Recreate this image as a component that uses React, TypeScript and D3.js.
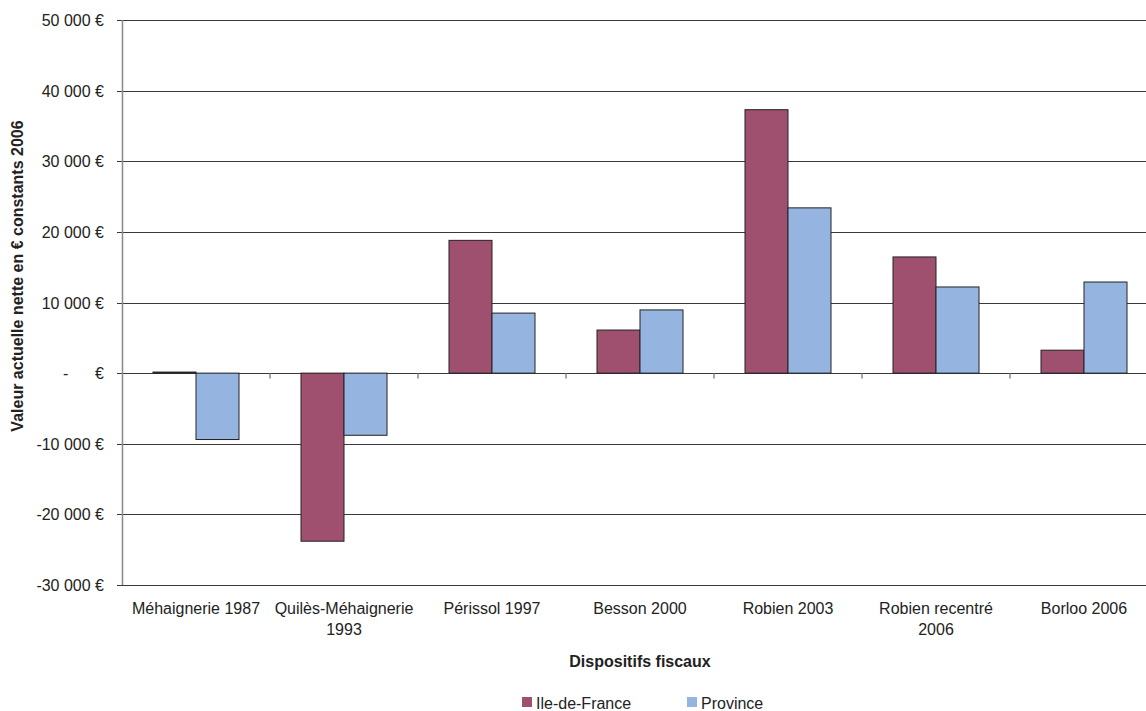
import React, { useEffect, useRef } from 'react';
import * as d3 from 'd3';

const categories = [
  ['Méhaignerie 1987'],
  ['Quilès-Méhaignerie', '1993'],
  ['Périssol 1997'],
  ['Besson 2000'],
  ['Robien 2003'],
  ['Robien recentré', '2006'],
  ['Borloo 2006'],
];
const seriesNames = ['Ile-de-France', 'Province'];
const ileDeFrance = [150, -23800, 18800, 6100, 37300, 16450, 3250];
const province = [-9400, -8800, 8500, 8950, 23400, 12200, 12900];
const yTicks = [-30000, -20000, -10000, 0, 10000, 20000, 30000, 40000, 50000];

const colors = ['#a0506f', '#95b5e0'];
const font = '"Liberation Sans", Arial, sans-serif';

export default function App() {
  const ref = useRef<SVGSVGElement>(null);

  useEffect(() => {
    const svg = d3.select(ref.current);
    svg.selectAll('*').remove();

    const left = 122;
    const band = 148;
    const top = 20;
    const bottom = 585;

    const x0 = d3.scaleBand()
      .domain(categories.map((c, i) => String(i)))
      .range([left, left + band * categories.length])
      .paddingInner(0)
      .paddingOuter(0);
    const x1 = d3.scaleBand()
      .domain(seriesNames)
      .range([31, band - 31]);
    const y = d3.scaleLinear().domain([-30000, 50000]).range([bottom, top]);

    // gridlines
    svg.append('g')
      .selectAll('line')
      .data(yTicks)
      .enter().append('line')
      .attr('x1', left - 5)
      .attr('x2', 1146)
      .attr('y1', d => Math.round(y(d)) + 0.5)
      .attr('y2', d => Math.round(y(d)) + 0.5)
      .attr('stroke', '#3a3a3a')
      .attr('stroke-width', 1);

    // y labels (hyphen for negatives, spaced dash for zero)
    const fmt = (d: number) => {
      if (d === 0) return '-\u00a0\u00a0\u00a0\u00a0\u00a0\u00a0€';
      const s = d3.format(',')(Math.abs(d)).replace(/,/g, ' ') + ' €';
      return d < 0 ? '-' + s : s;
    };
    svg.append('g')
      .selectAll('text')
      .data(yTicks)
      .enter().append('text')
      .attr('x', 104)
      .attr('y', d => y(d) + 6)
      .attr('text-anchor', 'end')
      .style('white-space', 'pre')
      .attr('font-family', font)
      .attr('font-size', 16)
      .attr('fill', '#222')
      .text(d => fmt(d));

    // bars
    const data = categories.map((c, i) => ({ i: String(i), vals: [ileDeFrance[i], province[i]] }));
    const groups = svg.append('g')
      .selectAll('g')
      .data(data)
      .enter().append('g')
      .attr('transform', d => `translate(${x0(d.i)},0)`);
    groups.selectAll('rect')
      .data(d => d.vals.map((v, k) => ({ v, k })))
      .enter().append('rect')
      .attr('x', d => x1(seriesNames[d.k]) as number)
      .attr('width', x1.bandwidth())
      .attr('y', d => Math.min(y(d.v), y(0)))
      .attr('height', d => Math.max(1, Math.abs(y(d.v) - y(0))))
      .attr('fill', d => colors[d.k])
      .attr('stroke', '#222')
      .attr('stroke-width', 1);

    // y axis line
    svg.append('line')
      .attr('x1', left + 0.5).attr('x2', left + 0.5)
      .attr('y1', top).attr('y2', bottom)
      .attr('stroke', '#888').attr('stroke-width', 1.5);

    // x axis at zero with category ticks
    const z = Math.round(y(0)) + 0.5;
    svg.append('g')
      .selectAll('line')
      .data(d3.range(1, categories.length + 1))
      .enter().append('line')
      .attr('x1', d => left + band * d)
      .attr('x2', d => left + band * d)
      .attr('y1', z)
      .attr('y2', z + 5)
      .attr('stroke', '#888')
      .attr('stroke-width', 1.5);

    // category labels
    const labels = svg.append('g')
      .selectAll('text')
      .data(categories)
      .enter().append('text')
      .attr('x', (c, i) => (x0(String(i)) as number) + band / 2)
      .attr('y', 614)
      .attr('text-anchor', 'middle')
      .attr('font-family', font)
      .attr('font-size', 16)
      .attr('fill', '#222');
    labels.selectAll('tspan')
      .data(c => c)
      .enter().append('tspan')
      .attr('x', function () { return (this.parentNode as SVGTextElement).getAttribute('x'); })
      .attr('dy', (d, k) => k === 0 ? 0 : 21)
      .text(d => d);

    // axis titles
    svg.append('text')
      .attr('x', 640)
      .attr('y', 667)
      .attr('text-anchor', 'middle')
      .attr('font-family', font)
      .attr('font-weight', 'bold')
      .attr('font-size', 16)
      .attr('fill', '#222')
      .text('Dispositifs fiscaux');
    svg.append('text')
      .attr('transform', 'translate(23,276) rotate(-90)')
      .attr('text-anchor', 'middle')
      .attr('font-family', font)
      .attr('font-weight', 'bold')
      .attr('font-size', 16)
      .attr('fill', '#222')
      .text('Valeur actuelle nette en € constants 2006');

    // legend
    const legX = [522, 687];
    seriesNames.forEach((name, k) => {
      svg.append('rect')
        .attr('x', legX[k]).attr('y', 697)
        .attr('width', 10).attr('height', 10)
        .attr('fill', colors[k]);
      svg.append('text')
        .attr('x', legX[k] + 14).attr('y', 709)
        .attr('font-family', font)
        .attr('font-size', 16)
        .attr('fill', '#222')
        .text(name);
    });
  }, []);

  return (
    <svg ref={ref} width={1146} height={711}
      style={{ position: 'absolute', left: 0, top: 0, background: '#fff' }} />
  );
}
